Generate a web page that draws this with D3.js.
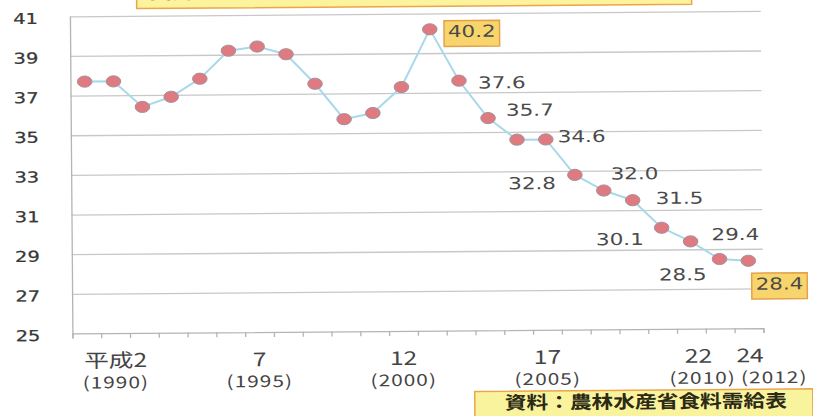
<!DOCTYPE html>
<html>
<head>
<meta charset="utf-8">
<script src="https://cdn.jsdelivr.net/npm/d3@7"></script>
<style>
  html, body { margin: 0; padding: 0; background: #fff; }
  svg { display: block; }
</style>
</head>
<body>
<svg id="chart" width="813" height="416"></svg>
<script>
// 魚介類の1人1年当たり消費量（kg）平成元年(1989)〜平成24年(2012)
const years = d3.range(1989, 2013);
const consumption = [
  37.7, 37.7, 36.4, 36.9, 37.8, 39.2, 39.4, 39.0, 37.5, 35.7, 36.0, 37.3,
  40.2, 37.6, 35.7, 34.6, 34.6, 32.8, 32.0, 31.5, 30.1, 29.4, 28.5, 28.4
];
const yTicks = [25, 27, 29, 31, 33, 35, 37, 39, 41];
const xLabelYears = [1990, 1995, 2000, 2005, 2010, 2012];
const xLabelEra = ["平成2", "7", "12", "17", "22", "24"];
const xLabelWestern = ["(1990)", "(1995)", "(2000)", "(2005)", "(2010)", "(2012)"];
const labelledYears = [2001, 2002, 2003, 2005, 2006, 2007, 2008, 2009, 2010, 2011, 2012];
const boxedYears = [2001, 2012];
const titleText = "食用魚介類の1人1年当たり消費量の推移（kg）";
const sourceText = "資料：農林水産省食料需給表";

// where each value label sits relative to its marker (screen px)
const labelPlacement = {
  2001: { anchor: "middle", dx: 42, dy: 0 },
  2002: { anchor: "start", dx: 19, dy: 2 },
  2003: { anchor: "start", dx: 18, dy: -8 },
  2005: { anchor: "start", dx: 12, dy: -3 },
  2006: { anchor: "end", dx: -19, dy: 8 },
  2007: { anchor: "start", dx: 7, dy: -17 },
  2008: { anchor: "start", dx: 23, dy: -2 },
  2009: { anchor: "end", dx: -18, dy: 11 },
  2010: { anchor: "start", dx: 21, dy: -7 },
  2011: { anchor: "end", dx: -13, dy: 15 },
  2012: { anchor: "middle", dx: 31, dy: 21 }
};
// small nudges of the two-line year labels (screen px): [era line, western line]
const xLabelNudge = { 2010: [7, 11], 2012: [1, 25] };

const SX = 1.3;              // horizontal stretch of the drawing
const data = years.map((year, i) => ({ year, value: consumption[i] }));

const svg = d3.select("#chart");
const tilt = svg.append("g").attr("transform", "rotate(-0.45 400 172)");
const g = tilt.append("g").attr("transform", `scale(${SX},1)`);

const x = d3.scaleBand().domain(years).range([71 / SX, 762 / SX]).padding(0);
const cx = yr => x(yr) + x.bandwidth() / 2;
const y = d3.scaleLinear().domain([25, 41]).range([330.9, 13.7]);
const xEdges = d3.scaleLinear().domain([0, years.length]).range(x.range());
const plotW = x.range()[1] - x.range()[0];

// horizontal gridlines
const grid = g.append("g")
  .attr("transform", `translate(${x.range()[0]},0)`)
  .call(d3.axisLeft(y).tickValues(yTicks.filter(t => t > 25)).tickSize(-plotW).tickFormat(""));
grid.select(".domain").remove();
grid.selectAll("line")
  .attr("stroke", "#c8c8c8")
  .attr("stroke-width", 1.3)
  .attr("vector-effect", "non-scaling-stroke");

// y axis labels and vertical axis line
const yAxis = g.append("g")
  .attr("transform", `translate(${x.range()[0]},0)`)
  .call(d3.axisLeft(y).tickValues(yTicks).tickSize(0).tickPadding(24.5));
yAxis.select(".domain")
  .attr("stroke", "#b4b4b4")
  .attr("stroke-width", 1.3)
  .attr("vector-effect", "non-scaling-stroke");
yAxis.selectAll("text")
  .attr("font-family", "'DejaVu Sans', Verdana, sans-serif")
  .attr("font-size", 15)
  .attr("fill", "#383838")
  .attr("stroke", "#383838")
  .attr("stroke-width", 0.25)
  .attr("dy", "0.45em");

// x axis with tick marks on category boundaries
const xAxis = g.append("g")
  .attr("transform", `translate(0,${y(25)})`)
  .call(d3.axisBottom(xEdges).tickValues(d3.range(0, years.length + 1)).tickSize(5).tickFormat(""));
xAxis.selectAll("path, line")
  .attr("stroke", "#b4b4b4")
  .attr("stroke-width", 1.3)
  .attr("vector-effect", "non-scaling-stroke");

// year labels
const xl = g.append("g").attr("font-family", "'Noto Sans CJK JP', sans-serif").attr("fill", "#444");
xLabelYears.forEach((yr, i) => {
  const nudge = xLabelNudge[yr] || [0, 0];
  xl.append("text")
    .attr("x", cx(yr) + nudge[0] / SX)
    .attr("y", 365)
    .attr("text-anchor", "middle")
    .attr("font-size", 19)
    .text(xLabelEra[i]);
  xl.append("text")
    .attr("x", cx(yr) + nudge[1] / SX)
    .attr("y", 386)
    .attr("text-anchor", "middle")
    .attr("font-size", 16)
    .attr("letter-spacing", 0.8)
    .text(xLabelWestern[i]);
});

// the series line
g.append("path")
  .datum(data)
  .attr("fill", "none")
  .attr("stroke", "#a8d9ea")
  .attr("stroke-width", 2)
  .attr("vector-effect", "non-scaling-stroke")
  .attr("d", d3.line().x(d => cx(d.year)).y(d => y(d.value)));

// markers
g.append("g")
  .selectAll("circle")
  .data(data)
  .join("circle")
  .attr("cx", d => cx(d.year))
  .attr("cy", d => y(d.value))
  .attr("r", 5.6)
  .attr("fill", "#df7b80")
  .attr("stroke", "#a3909c")
  .attr("stroke-width", 1)
  .attr("vector-effect", "non-scaling-stroke");

// value labels
const vl = g.append("g");
data.filter(d => labelledYears.includes(d.year)).forEach(d => {
  const p = labelPlacement[d.year];
  const boxed = boxedYears.includes(d.year);
  const grp = vl.append("g");
  const t = grp.append("text")
    .attr("x", cx(d.year) + p.dx / SX)
    .attr("y", y(d.value) + p.dy)
    .attr("dy", "0.36em")
    .attr("text-anchor", p.anchor)
    .attr("font-family", "'DejaVu Sans', Verdana, sans-serif")
    .attr("font-size", 16.5)
    .attr("fill", "#4a4a4a")
    .text(d.value.toFixed(1));
  if (boxed) {
    const b = t.node().getBBox();
    grp.insert("rect", "text")
      .attr("x", b.x - 3)
      .attr("y", b.y + 1)
      .attr("width", b.width + 6)
      .attr("height", b.height + 6)
      .attr("fill", "#f8d56c")
      .attr("stroke", "#e2a24c")
      .attr("stroke-width", 1.5)
      .attr("vector-effect", "non-scaling-stroke");
    t.attr("y", +t.attr("y") + 2);
  }
});

// title box (runs off the top edge)
g.append("rect")
  .attr("x", 138 / SX).attr("y", -30)
  .attr("width", (693 - 138) / SX).attr("height", 36.5)
  .attr("fill", "#fcf39c")
  .attr("stroke", "#e9a64b")
  .attr("stroke-width", 1.5)
  .attr("vector-effect", "non-scaling-stroke");
g.append("text")
  .attr("x", 400 / SX).attr("y", -3)
  .attr("text-anchor", "middle")
  .attr("font-family", "'Noto Sans CJK JP', sans-serif")
  .attr("font-weight", "bold")
  .attr("font-size", 18)
  .attr("fill", "#555")
  .text(titleText);

// source note
g.append("rect")
  .attr("x", 473 / SX).attr("y", 392)
  .attr("width", (811 - 473) / SX).attr("height", 40)
  .attr("fill", "#faf39d")
  .attr("stroke", "#e9a64b")
  .attr("stroke-width", 1.5)
  .attr("vector-effect", "non-scaling-stroke");
g.append("text")
  .attr("x", 503 / SX).attr("y", 410)
  .attr("font-family", "'Noto Sans CJK JP', sans-serif")
  .attr("font-weight", "bold")
  .attr("font-size", 18)
  .attr("fill", "#2b2a14")
  .attr("textLength", 282 / SX)
  .attr("lengthAdjust", "spacingAndGlyphs")
  .text(sourceText);
</script>
</body>
</html>
